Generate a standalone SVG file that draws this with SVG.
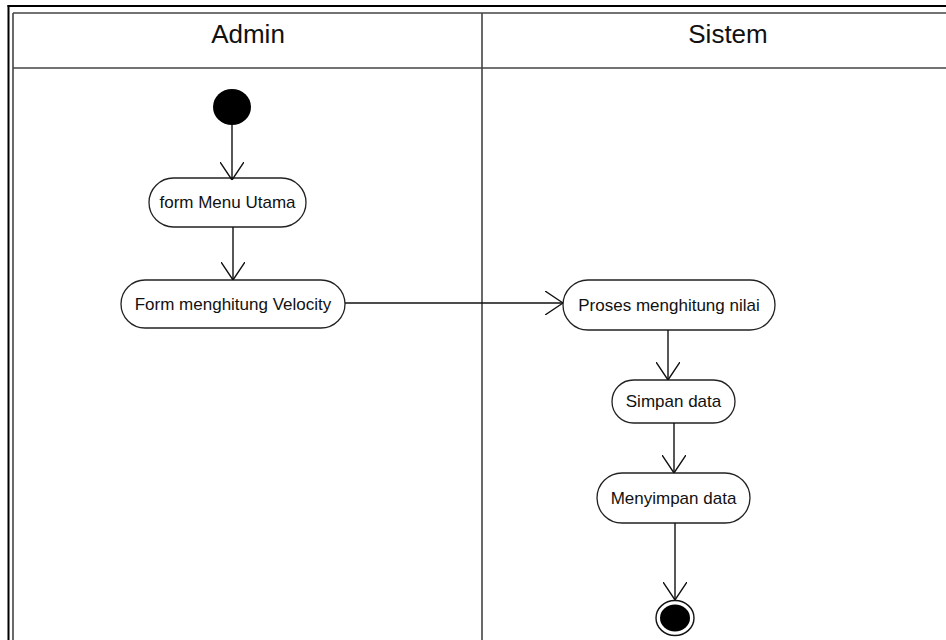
<svg xmlns="http://www.w3.org/2000/svg" width="946" height="640" viewBox="0 0 946 640">
<style>
.frame{stroke:#000;stroke-width:2;fill:none}
.lane{stroke:#444;stroke-width:1.6;fill:none}
.hdr{font-family:"Liberation Sans",Arial,sans-serif;font-size:26px;fill:#111;text-anchor:middle}
.act rect{fill:#fff;stroke:#222;stroke-width:1.3}
.act text{font-family:"Liberation Sans",Arial,sans-serif;font-size:17px;fill:#111;text-anchor:middle}
.conn line{stroke:#111;stroke-width:1.4;marker-end:url(#open)}
</style>
<defs>
<marker id="open" viewBox="0 0 18 24" refX="18" refY="12" markerWidth="18" markerHeight="24" markerUnits="userSpaceOnUse" orient="auto">
<path d="M0,0 L18,12 L0,24" fill="none" stroke="#111" stroke-width="1.4"/>
</marker>
</defs>
<rect width="946" height="640" fill="#fff"/>
<g id="frame">
<line class="frame" x1="7.5" y1="6" x2="946" y2="6"/>
<line class="frame" x1="8.5" y1="5" x2="8.5" y2="640"/>
<line class="lane" x1="13" y1="13" x2="946" y2="13"/>
<line class="lane" x1="13" y1="13" x2="13" y2="640"/>
<line class="lane" x1="13" y1="68" x2="946" y2="68"/>
<line class="lane" x1="482" y1="13" x2="482" y2="640"/>
<text class="hdr" x="248" y="43">Admin</text>
<text class="hdr" x="728" y="43">Sistem</text>
</g>
<g id="start"><ellipse cx="232" cy="107" rx="19" ry="18" fill="#000"/></g>
<g id="formMenuUtama" class="act"><rect x="149" y="178" width="157" height="49" rx="24.5"/><text x="227.5" y="208">form Menu Utama</text></g>
<g id="formVelocity" class="act"><rect x="121" y="280" width="224" height="48" rx="24"/><text x="233" y="310">Form menghitung Velocity</text></g>
<g id="prosesNilai" class="act"><rect x="563" y="280" width="212" height="50" rx="25"/><text x="669" y="311">Proses menghitung nilai</text></g>
<g id="simpanData" class="act"><rect x="612" y="380" width="123" height="43" rx="21.5"/><text x="673.5" y="407">Simpan data</text></g>
<g id="menyimpanData" class="act"><rect x="597" y="473" width="153" height="50" rx="25"/><text x="673.5" y="504">Menyimpan data</text></g>
<g id="end"><ellipse cx="675" cy="618" rx="19" ry="17.5" fill="#fff" stroke="#111" stroke-width="1.4"/><ellipse cx="675" cy="618" rx="15" ry="13.5" fill="#000"/></g>
<g id="connectors" class="conn">
<line x1="232" y1="125" x2="232" y2="180"/>
<line x1="233" y1="227" x2="233" y2="280"/>
<line x1="345" y1="303" x2="563" y2="303"/>
<line x1="668" y1="330" x2="668" y2="380"/>
<line x1="674" y1="423" x2="674" y2="473"/>
<line x1="675" y1="523" x2="675" y2="600"/>
</g>
</svg>
